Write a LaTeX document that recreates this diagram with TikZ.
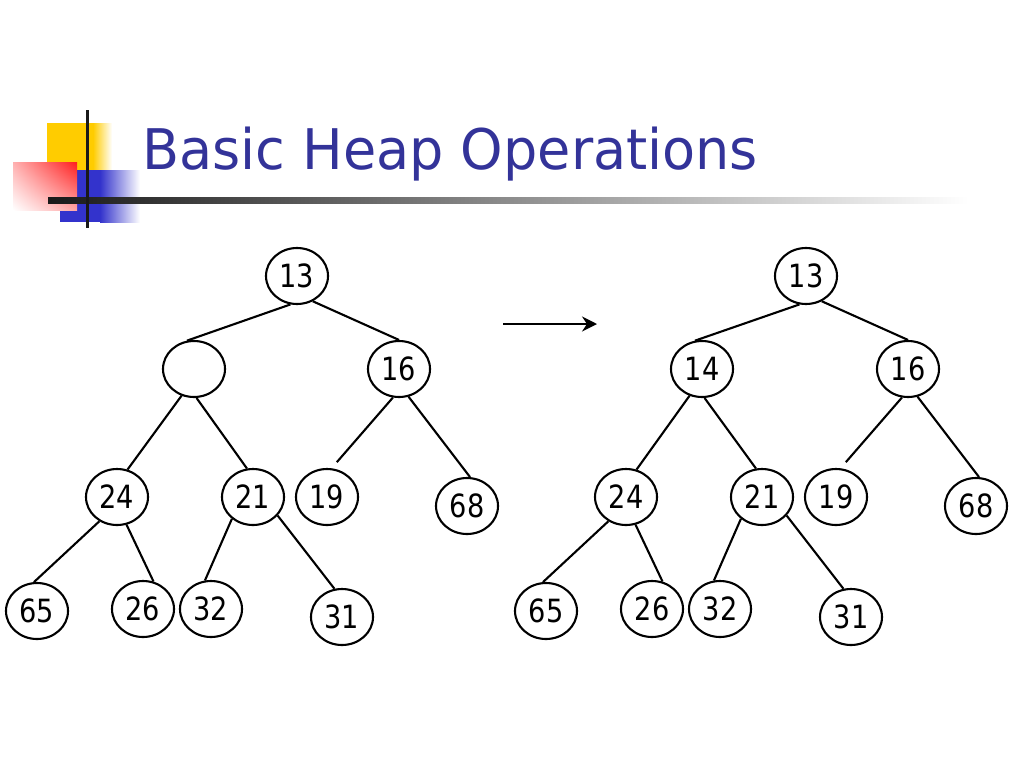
\documentclass[tikz,border=0pt]{standalone}
\usepackage{fontspec}
\setmainfont{DejaVu Sans}
\usepackage{graphicx}
\usetikzlibrary{shapes.geometric,arrows.meta,shadings}
\definecolor{titleblue}{RGB}{51,51,153}
\definecolor{decoyellow}{RGB}{255,204,0}
\definecolor{decored}{RGB}{255,30,30}
\definecolor{decoblue}{RGB}{51,51,204}
\newcommand\sx[1]{\scalebox{0.85}[1]{#1}}
\tikzset{
  hn/.style={ellipse, draw, line width=2.1pt, minimum width=62pt, minimum height=56pt, inner sep=0pt, font=\fontsize{32pt}{32pt}\selectfont},
  edge/.style={line width=2.1pt},
}
\begin{document}
\begin{tikzpicture}[x=1pt,y=-1pt]
\useasboundingbox (0,0) rectangle (1024,768);
% decoration
\fill[decoyellow] (47,123) rectangle (93,172);
\shade[left color=decoyellow, right color=white] (93,123) rectangle (112,172);
\fill[decoblue] (60,170) rectangle (100,222);
\shade[left color=decoblue, right color=white] (100,170) rectangle (140,222);
\shade[lower left=white, upper right=decored, lower right=decored!40, upper left=decored!35] (13,162) rectangle (77,210);
\shade[left color=black!90, right color=white] (48,197) rectangle (968,203);
\draw[line width=3pt, black!90] (87,110) -- (87,228);
% title
\node[anchor=base west, inner sep=0pt, text=titleblue, font=\fontsize{56pt}{56pt}\selectfont] (title) at (142,169) {\scalebox{0.965}[1]{Basic Heap Operations}};
% left tree
\node[hn] (a13) at (297,276) {\sx{13}};
\node[hn] (ae) at (194,369) {};
\node[hn] (a16) at (399,369) {\sx{16}};
\node[hn] (a24) at (117,497) {\sx{24}};
\node[hn] (a21) at (253,497) {\sx{21}};
\node[hn] (a19) at (327,497) {\sx{19}};
\node[hn] (a68) at (467,506) {\sx{68}};
\node[hn] (a65) at (37,611) {\sx{65}};
\node[hn] (a26) at (143,609) {\sx{26}};
\node[hn] (a32) at (211,609) {\sx{32}};
\node[hn] (a31) at (342,617) {\sx{31}};
% right tree
\node[hn] (b13) at (806,276) {\sx{13}};
\node[hn] (b14) at (702,369) {\sx{14}};
\node[hn] (b16) at (908,369) {\sx{16}};
\node[hn] (b24) at (626,497) {\sx{24}};
\node[hn] (b21) at (762,497) {\sx{21}};
\node[hn] (b19) at (836,497) {\sx{19}};
\node[hn] (b68) at (976,506) {\sx{68}};
\node[hn] (b65) at (546,611) {\sx{65}};
\node[hn] (b26) at (652,609) {\sx{26}};
\node[hn] (b32) at (720,609) {\sx{32}};
\node[hn] (b31) at (851,617) {\sx{31}};
% edges
\foreach \t/\m in {a/e, b/14} {
  \draw[edge] (\t13.-103) -- (\t\m.104);
  \draw[edge] (\t13.-58) -- (\t16.90);
  \draw[edge] (\t\m.-115) -- (\t24.69);
  \draw[edge] (\t\m.-85) -- (\t21.102);
  \draw[edge, shorten >=8pt] (\t16.-102) -- (\t19.81);
  \draw[edge] (\t16.-71) -- (\t68.84);
  \draw[edge] (\t24.-126) -- (\t65.96);
  \draw[edge] (\t24.-71) -- (\t26.69);
  \draw[edge] (\t21.-134) -- (\t32.102);
  \draw[edge] (\t21.-37) -- (\t31.105);
}
% arrow
\coordinate (as) at (503,324);
\coordinate (ae2) at (597,324);
\draw[line width=2.7pt, -{Stealth[length=15pt, width=15pt, inset=5pt]}] (as) -- (ae2);
\end{tikzpicture}
\end{document}
